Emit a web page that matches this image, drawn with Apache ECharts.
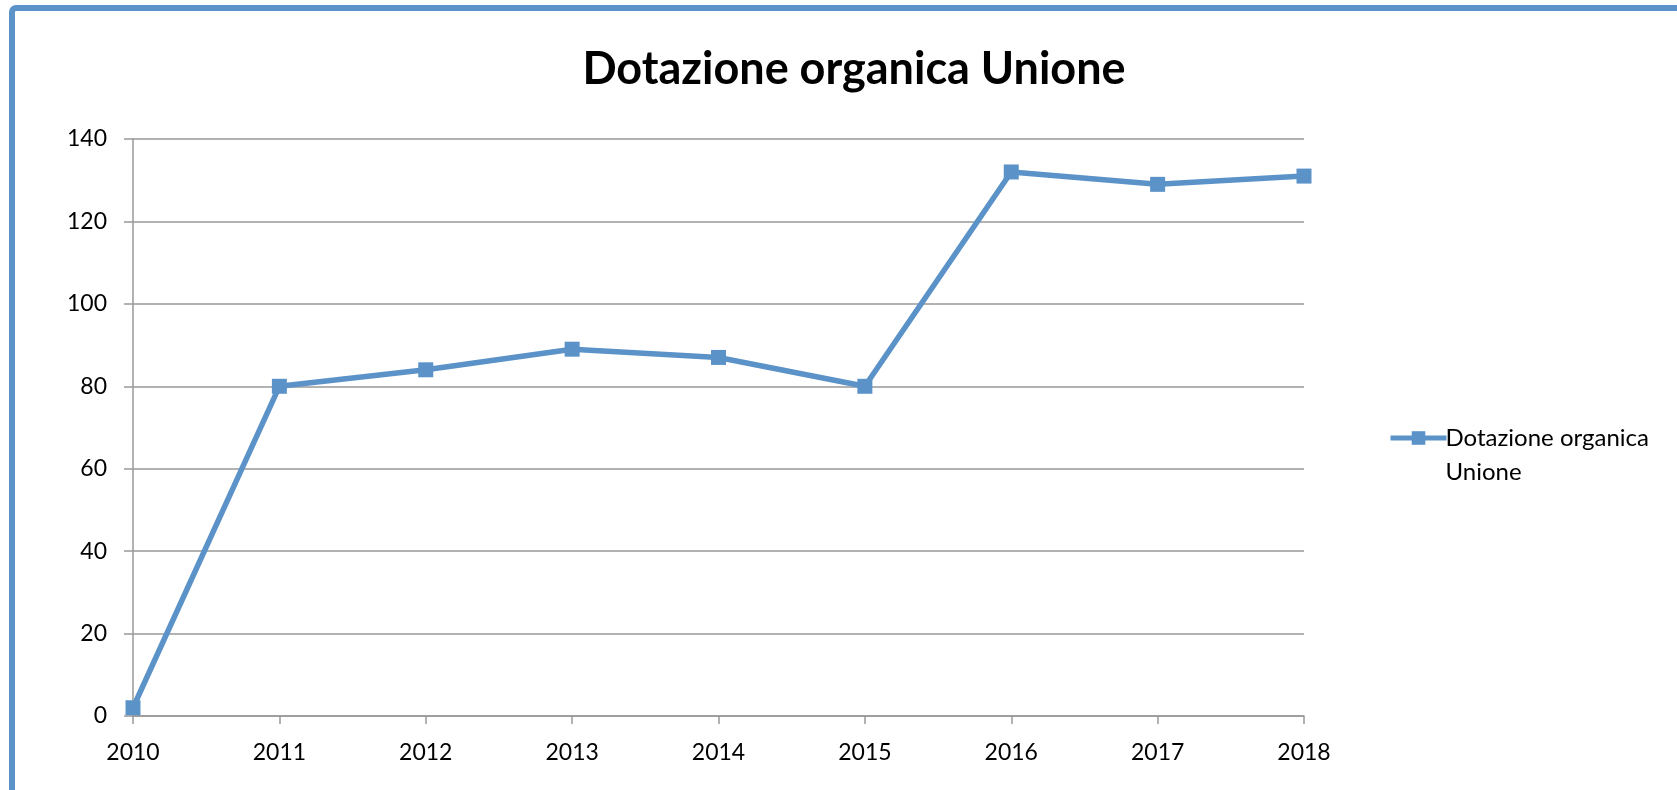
<!DOCTYPE html>
<html>
<head>
<meta charset="utf-8">
<script src="https://cdn.jsdelivr.net/npm/echarts@6/dist/echarts.min.js"></script>
<style>
html,body{margin:0;padding:0;background:#fff;}
#c{width:1677px;height:790px;}
</style>
</head>
<body>
<div id="c"></div>
<script>
const titleText = 'Dotazione organica Unione';
const seriesName = 'Dotazione organica Unione';
const categories = ['2010','2011','2012','2013','2014','2015','2016','2017','2018'];
const values = [2, 80, 84, 89, 87, 80, 132, 129, 131];
const yTicks = [0, 20, 40, 60, 80, 100, 120, 140];

const FONT = 'Lato';
const BLUE = '#5b93c9';
const GRID = '#999999';

const chart = echarts.init(document.getElementById('c'), null, {renderer: 'canvas'});
chart.setOption({
  backgroundColor: '#ffffff',
  animation: false,
  title: {
    text: titleText,
    left: 849,
    top: 42,
    textAlign: 'center',
    textStyle: {fontFamily: FONT, fontWeight: 'bold', fontSize: 45, color: '#000'}
  },
  graphic: [{
    type: 'rect',
    shape: {x: 12, y: 8, width: 1720, height: 820, r: 4},
    style: {fill: 'none', stroke: BLUE, lineWidth: 6},
    z: 100
  }],
  legend: {
    left: 1383,
    top: 382,
    orient: 'vertical',
    itemWidth: 56,
    itemHeight: 17,
    itemGap: 4,
    lineStyle: {width: 5},
    formatter: function (n) { return '\nDotazione organica\nUnione'; },
    textStyle: {fontFamily: FONT, fontSize: 24, color: '#000', lineHeight: 34, padding: [0, 0, 0, -6]},
    data: [seriesName]
  },
  grid: {left: 133, right: 373, top: 139, bottom: 74, containLabel: false},
  xAxis: {
    type: 'category',
    data: categories,
    boundaryGap: false,
    axisLine: {lineStyle: {color: GRID, width: 1.5}},
    axisTick: {show: true, length: 8, lineStyle: {color: GRID, width: 1.5}},
    axisLabel: {fontFamily: FONT, fontSize: 23, color: '#000', margin: 25},
    splitLine: {show: false}
  },
  yAxis: {
    type: 'value',
    min: 0,
    max: 140,
    interval: 20,
    axisLine: {show: true, lineStyle: {color: GRID, width: 1.5}},
    axisTick: {show: true, length: 9, lineStyle: {color: GRID, width: 1.5}},
    axisLabel: {
      fontFamily: FONT, fontSize: 23, color: '#000', margin: 26,
      formatter: function (v) { return yTicks.indexOf(v) >= 0 ? String(v) : ''; }
    },
    splitLine: {show: true, lineStyle: {color: GRID, width: 1.5}}
  },
  series: [{
    name: seriesName,
    type: 'line',
    data: values,
    symbol: 'rect',
    symbolSize: 15,
    showSymbol: true,
    lineStyle: {color: BLUE, width: 5.5},
    itemStyle: {color: BLUE},
    z: 3
  }]
});
</script>
</body>
</html>
